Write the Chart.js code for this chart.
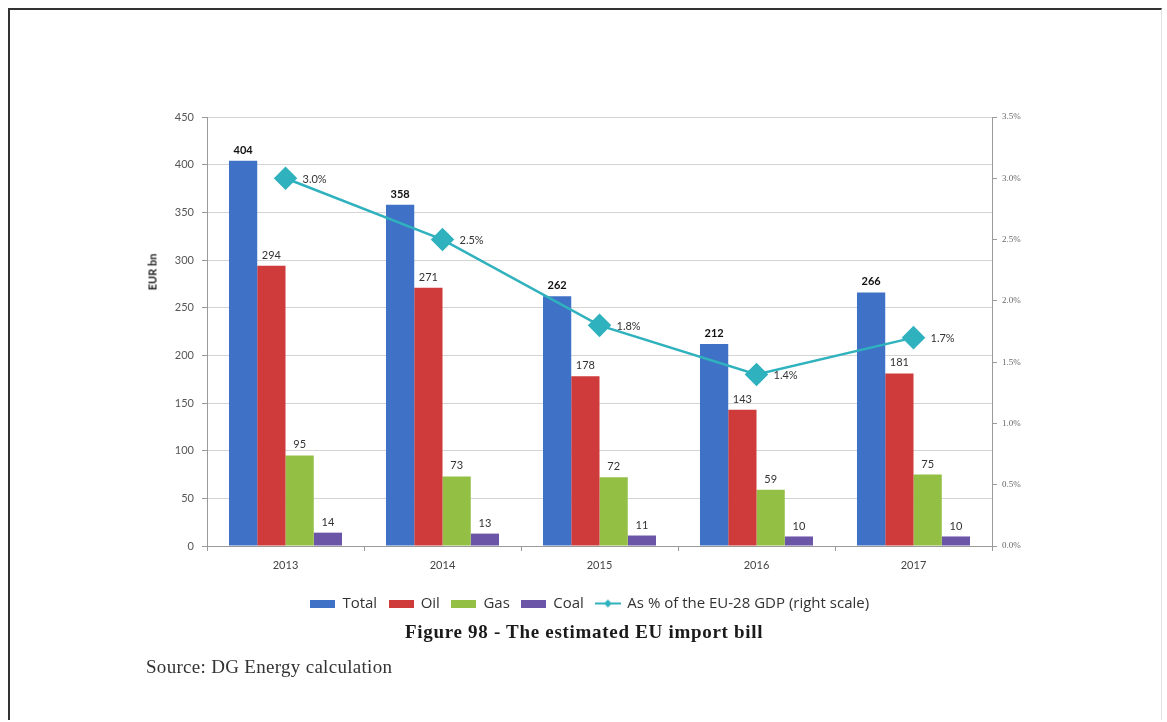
<!DOCTYPE html>
<html>
<head>
<meta charset="utf-8">
<script src="https://cdn.jsdelivr.net/npm/chart.js@4.4.1/dist/chart.umd.min.js"></script>
<style>
  html, body { margin: 0; padding: 0; background: #fff; }
  body { width: 1167px; height: 722px; position: relative; overflow: hidden; }
  #frame { position: absolute; left: 8px; top: 8px; width: 1154px; height: 712px;
           border-left: 2px solid #333; border-top: 2px solid #333;
           border-right: 1px solid #e2e2e2; box-sizing: border-box; }
  #wrap { position: absolute; left: 0; top: 0; width: 1167px; height: 722px; }
  #caption { position: absolute; left: 405px; top: 621px; white-space: nowrap;
             font-family: "Liberation Serif", "DejaVu Serif", serif; font-weight: bold;
             font-size: 19px; letter-spacing: 0.7px; color: #1a1a1a; }
  #source { position: absolute; left: 146px; top: 656px; white-space: nowrap;
            font-family: "Liberation Serif", "DejaVu Serif", serif; font-size: 19px;
            letter-spacing: 0.3px; color: #333; }
  #ytitle { position: absolute; left: 152px; top: 272px; transform: translate(-50%, -50%) rotate(-90deg);
            font-family: Lato, "Open Sans", sans-serif; font-weight: bold; font-size: 11px; color: #222;
            white-space: nowrap; }
</style>
</head>
<body>
<div id="frame"></div>
<div id="wrap"><canvas id="chart" width="1167" height="722"></canvas></div>
<div id="ytitle">EUR bn</div>
<div id="caption">Figure 98 - The estimated EU import bill</div>
<div id="source">Source: DG Energy calculation</div>
<script>
// EU energy import bill, EUR bn, with the bill as a share of EU-28 GDP
const years = ['2013', '2014', '2015', '2016', '2017'];
const totalBill = [404, 358, 262, 212, 266];
const oilBill = [294, 271, 178, 143, 181];
const gasBill = [95, 73, 72, 59, 75];
const coalBill = [14, 13, 11, 10, 10];
const gdpShare = [3.0, 2.5, 1.8, 1.4, 1.7];

const COLORS = {
  total: '#3F72C6',
  oil: '#CF3A3A',
  gas: '#93BF45',
  coal: '#6A55A6',
  share: '#2FB2BE'
};

const FONT = 'Lato, "Open Sans", "Liberation Sans", sans-serif';
const LEGEND_FONT = '"Open Sans", Lato, sans-serif';

// Legend swatches: wide flat bars for the columns, a line with a diamond for the share
function barSwatch(color) {
  const c = document.createElement('canvas');
  c.width = 25; c.height = 8;
  const g = c.getContext('2d');
  g.fillStyle = color;
  g.fillRect(0, 0, 25, 8);
  return c;
}
function lineSwatch(color) {
  const c = document.createElement('canvas');
  c.width = 26; c.height = 10;
  const g = c.getContext('2d');
  g.strokeStyle = color; g.lineWidth = 2;
  g.beginPath(); g.moveTo(0, 5); g.lineTo(26, 5); g.stroke();
  g.fillStyle = color;
  g.beginPath(); g.moveTo(13, 1); g.lineTo(17, 5); g.lineTo(13, 9); g.lineTo(9, 5); g.closePath(); g.fill();
  return c;
}

// Value labels above the columns and beside the share markers
const valueLabels = {
  id: 'valueLabels',
  afterDatasetsDraw(chart) {
    const ctx = chart.ctx;
    ctx.save();
    chart.data.datasets.forEach((ds, i) => {
      const meta = chart.getDatasetMeta(i);
      if (meta.hidden) return;
      meta.data.forEach((el, j) => {
        const v = ds.data[j];
        if (ds.type === 'line') {
          ctx.font = '11px ' + FONT;
          ctx.fillStyle = '#333';
          ctx.textAlign = 'left';
          ctx.textBaseline = 'middle';
          ctx.fillText(v.toFixed(1) + '%', el.x + 17, el.y + 1);
        } else {
          const bold = ds.label === 'Total';
          ctx.font = (bold ? 'bold ' : '') + '11px ' + FONT;
          ctx.fillStyle = bold ? '#111' : '#333';
          ctx.textAlign = 'center';
          ctx.textBaseline = 'bottom';
          ctx.fillText(String(v), el.x, el.y - 5);
        }
      });
    });
    ctx.restore();
  }
};

new Chart(document.getElementById('chart'), {
  data: {
    labels: years,
    datasets: [
      { type: 'line', label: 'As % of the EU-28 GDP (right scale)', data: gdpShare, yAxisID: 'y1',
        borderColor: COLORS.share, backgroundColor: COLORS.share, borderWidth: 2.5,
        pointStyle: 'rectRot', pointRadius: 10, pointHoverRadius: 10, order: 0,
        legendSwatch: lineSwatch(COLORS.share) },
      { type: 'bar', label: 'Total', data: totalBill, backgroundColor: COLORS.total, yAxisID: 'y', order: 1,
        legendSwatch: barSwatch(COLORS.total) },
      { type: 'bar', label: 'Oil', data: oilBill, backgroundColor: COLORS.oil, yAxisID: 'y', order: 1,
        legendSwatch: barSwatch(COLORS.oil) },
      { type: 'bar', label: 'Gas', data: gasBill, backgroundColor: COLORS.gas, yAxisID: 'y', order: 1,
        legendSwatch: barSwatch(COLORS.gas) },
      { type: 'bar', label: 'Coal', data: coalBill, backgroundColor: COLORS.coal, yAxisID: 'y', order: 1,
        legendSwatch: barSwatch(COLORS.coal) }
    ]
  },
  options: {
    responsive: false,
    animation: false,
    events: [],
    layout: { padding: { left: 140, right: 127, top: 117, bottom: 101 } },
    datasets: { bar: { categoryPercentage: 0.72, barPercentage: 1.0 } },
    scales: {
      x: {
        offset: true,
        grid: { offset: true, drawOnChartArea: false, drawTicks: true, tickLength: 5, color: '#9a9a9a' },
        border: { display: true, color: '#9a9a9a', width: 1 },
        ticks: { color: '#444', font: { family: FONT, size: 11 }, padding: 8 },
        afterFit(s) { s.height = 38; }
      },
      y: {
        position: 'left', min: 0, max: 450,
        ticks: { stepSize: 50, color: '#555', font: { family: FONT, size: 11 }, padding: 8 },
        grid: { color: '#d4d4d4', tickLength: 5, tickColor: '#9a9a9a' },
        border: { display: true, color: '#9a9a9a' },
        afterFit(s) { s.width = 67; }
      },
      y1: {
        position: 'right', min: 0, max: 3.5,
        ticks: { stepSize: 0.5, color: '#666', font: { family: '"Liberation Serif", serif', size: 9 }, padding: 5,
                 callback: v => v.toFixed(1) + '%' },
        grid: { drawOnChartArea: false, tickLength: 5, color: '#9a9a9a' },
        border: { display: true, color: '#9a9a9a' },
        afterFit(s) { s.width = 48; }
      }
    },
    plugins: {
      legend: {
        position: 'bottom',
        labels: {
          usePointStyle: true,
          pointStyleWidth: 24,
          boxHeight: 10,
          padding: 12,
          color: '#333',
          font: { family: LEGEND_FONT, size: 15 },
          generateLabels(chart) {
            const order = [1, 2, 3, 4, 0];
            return order.map(i => {
              const ds = chart.data.datasets[i];
              return { text: ds.label, pointStyle: ds.legendSwatch, fillStyle: 'transparent',
                       strokeStyle: 'transparent', lineWidth: 0, datasetIndex: i, hidden: false, fontColor: '#333' };
            });
          }
        }
      },
      tooltip: { enabled: false }
    }
  },
  plugins: [valueLabels]
});
</script>
</body>
</html>
